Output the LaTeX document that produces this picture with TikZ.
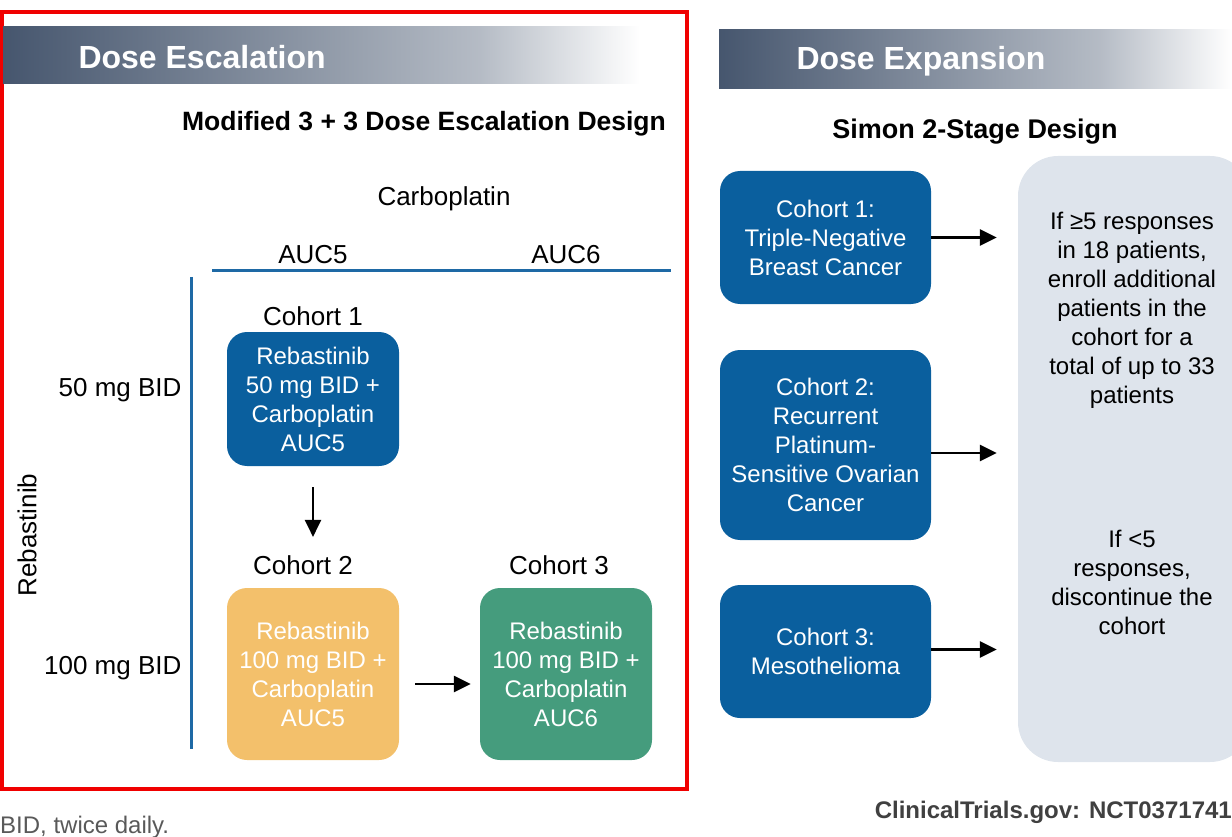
\documentclass[tikz,border=0pt]{standalone}
\usepackage{fontspec}
\setmainfont{Liberation Sans}
\usetikzlibrary{arrows.meta,calc}

\definecolor{hdrdark}{RGB}{70,86,110}
\definecolor{cohortblue}{RGB}{10,95,158}
\definecolor{cohortorange}{RGB}{243,192,107}
\definecolor{cohortgreen}{RGB}{69,156,125}
\definecolor{rulegray}{RGB}{222,228,236}
\definecolor{axisblue}{RGB}{30,105,165}
\definecolor{framered}{RGB}{240,0,0}

\tikzset{
  lbl/.style={font=\fontsize{26}{31}\selectfont},
  hdr/.style={font=\bfseries\fontsize{32}{38}\selectfont, text=white, anchor=west},
  cbox/.style={rounded corners=20pt, text=white, align=center, inner sep=0pt,
    font=\fontsize{24}{29}\selectfont},
  ruletxt/.style={align=center, font=\fontsize{24}{29}\selectfont},
  arr/.style={line width=2.5pt, -{Triangle[length=17pt,width=16pt]}},
}

\begin{document}
\begin{tikzpicture}[x=1pt,y=-1pt]
\useasboundingbox (0,0) rectangle (1232,837);

% escalation panel
\draw[framered, line width=4pt] (2,12) rectangle (687,789);
\shade[left color=hdrdark, right color=hdrdark!40] (3,27) rectangle (480,84);
\shade[left color=hdrdark!40, right color=white] (480,27) rectangle (640,84);
\node[hdr] (hdrL) at (75,57) {Dose Escalation};
\node[lbl, font=\bfseries\fontsize{26.5}{31}\selectfont] (titleL) at (424,124) {Modified 3 + 3 Dose Escalation Design};

\node[lbl] (carbo) at (444,199) {Carboplatin};
\node[lbl] (auc5) at (313,255) {AUC5};
\node[lbl] (auc6) at (566,255) {AUC6};
\coordinate (hx0) at (212,271);
\coordinate (hx1) at (671,271);
\draw[axisblue, line width=3pt] (hx0) -- (hx1);
\coordinate (vy0) at (191,277);
\coordinate (vy1) at (191,749);
\draw[axisblue, line width=3pt] (vy0) -- (vy1);

\node[lbl, rotate=90] (rebas) at (27,535) {Rebastinib};
\node[lbl, anchor=east] (dose50) at (185,390) {50 mg BID};
\node[lbl, anchor=east] (dose100) at (185,668) {100 mg BID};

\node[lbl] (coh1) at (313,316) {Cohort 1};
\node[lbl] (coh2) at (303,565) {Cohort 2};
\node[lbl] (coh3) at (559,565) {Cohort 3};

\node[cbox, fill=cohortblue, minimum width=172pt, minimum height=134pt] (c1) at (313,399)
  {Rebastinib\\50 mg BID +\\Carboplatin\\AUC5};
\node[cbox, fill=cohortorange, minimum width=172pt, minimum height=172pt] (c2) at (313,674)
  {Rebastinib\\100 mg BID +\\Carboplatin\\AUC5};
\node[cbox, fill=cohortgreen, minimum width=172pt, minimum height=172pt] (c3) at (566,674)
  {Rebastinib\\100 mg BID +\\Carboplatin\\AUC6};

\draw[arr, shorten <=21pt, shorten >=15pt] (c1.south) -- (c1.south |- coh2.north);
\draw[arr, shorten <=16pt, shorten >=9pt] ([yshift=-10pt]c2.east) -- ([yshift=-10pt]c3.west);

% expansion panel
\shade[left color=hdrdark, right color=hdrdark!40] (719,30) rectangle (1100,89);
\shade[left color=hdrdark!40, right color=white] (1100,30) rectangle (1232,89);
\node[hdr] (hdrR) at (793,61) {Dose Expansion};
\node[lbl, font=\bfseries\fontsize{27}{32}\selectfont] (titleR) at (975,132) {Simon 2-Stage Design};

\node[cbox, fill=cohortblue, minimum width=211pt, minimum height=133pt] (x1) at (825.5,237.5)
  {Cohort 1:\\Triple-Negative\\Breast Cancer};
\node[cbox, fill=cohortblue, minimum width=211pt, minimum height=190pt] (x2) at (825.5,445)
  {Cohort 2:\\Recurrent\\Platinum-\\Sensitive Ovarian\\Cancer};
\node[cbox, fill=cohortblue, minimum width=211pt, minimum height=133pt] (x3) at (825.5,651.5)
  {Cohort 3:\\Mesothelioma};

\node[fill=rulegray, rounded corners=40pt, minimum width=232pt, minimum height=606pt, inner sep=0pt]
  (rules) at (1134,459) {};
\node[ruletxt] (ruleup) at (1132,310)
  {If ≥5 responses\\in 18 patients,\\enroll additional\\patients in the\\cohort for a\\total of up to 33\\patients};
\node[ruletxt] (ruledown) at (1132,582)
  {If <5\\responses,\\discontinue the\\cohort};

\draw[arr, shorten >=21pt] (x1.east) -- (x1.east -| rules.west);
\draw[arr, shorten >=21pt] ([yshift=-8pt]x2.east) -- ([yshift=-8pt]x2.east -| rules.west);
\draw[arr, shorten >=21pt] ([yshift=2pt]x3.east) -- ([yshift=2pt]x3.east -| rules.west);

% footer
\node[anchor=west, text=black!65, font=\fontsize{24}{29}\selectfont, inner sep=0pt] (bidnote) at (0,827) {BID, twice daily.};
\node[anchor=east, text=black!75, font=\bfseries\fontsize{24}{29}\selectfont, inner sep=0pt] (nct) at (1232,812) {ClinicalTrials.gov: NCT0371741};
\end{tikzpicture}
\end{document}
